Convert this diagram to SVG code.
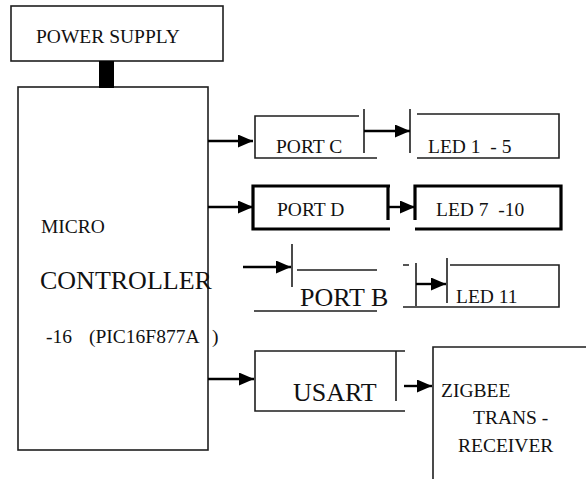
<svg xmlns="http://www.w3.org/2000/svg" width="586" height="479" viewBox="0 0 586 479">
<style>
.ln{fill:none;stroke:#1e1e1e;stroke-width:1.6}
.thk{fill:none;stroke:#000;stroke-width:3.2}
.ar{fill:none;stroke:#000;stroke-width:2.4}
text{font-family:'Liberation Serif','Times New Roman','DejaVu Serif',serif;font-size:19.5px;fill:#111}
.big{font-size:26px}
</style>
<defs>
<marker id="ah" markerUnits="userSpaceOnUse" markerWidth="16" markerHeight="14" refX="15" refY="6.5" orient="auto">
<path d="M0,0 L15,6.5 L0,13 z" fill="#000"/>
</marker>
</defs>
<rect width="586" height="479" fill="#fff"/>
<g id="power-supply">
<rect class="ln" x="11" y="6" width="212" height="55"/>
<text x="36" y="43" font-size="20">POWER SUPPLY</text>
</g>
<g id="microcontroller">
<rect class="ln" x="18" y="87" width="190" height="363"/>
<text x="41" y="233">MICRO</text>
<text class="big" x="40" y="289">CONTROLLER</text>
<text x="46" y="343">-16</text>
<text x="89" y="343">(PIC16F877A</text>
<text x="212" y="343">)</text>
</g>
<g id="port-c">
<path class="ln" d="M359,116 H255 V158 H377 M364,109 V153"/>
<text x="276" y="153">PORT C</text>
</g>
<g id="led-1-5">
<path class="ln" d="M410,109 V153 M417,114 H559 V158 H417"/>
<text x="428" y="153" xml:space="preserve">LED 1  - 5</text>
</g>
<g id="port-d">
<path class="thk" d="M390,186 H253 V229 H390 M388,186 V220"/>
<text x="277" y="216">PORT D</text>
</g>
<g id="led-7-10">
<path class="thk" d="M415,220 V186 H561 V229 H415"/>
<text x="436" y="216" xml:space="preserve">LED 7  -10</text>
</g>
<g id="port-b">
<path class="ln" d="M292,244 V287 M297,270 H377 M254,311 H377"/>
<text class="big" x="300" y="306">PORT B</text>
</g>
<g id="led-11">
<path class="ln" d="M403,265 H409 M416,263 V306 M447,258 V303 M450,265 H559 V307 H403"/>
<text x="456" y="303">LED 11</text>
</g>
<g id="usart">
<path class="ln" d="M405,351 H255 V411 H405 M396,351 V401"/>
<text class="big" x="293" y="401">USART</text>
</g>
<g id="zigbee">
<path class="ln" d="M433,490 V347 H590"/>
<text x="441" y="397">ZIGBEE</text>
<text x="473" y="424">TRANS -</text>
<text x="458" y="452">RECEIVER</text>
</g>
<g id="connectors">
<rect x="99" y="61" width="15" height="27" fill="#000"/>
<line class="ar" x1="208" y1="141" x2="253" y2="141" marker-end="url(#ah)"/>
<line class="ar" x1="364" y1="131" x2="410" y2="131" marker-end="url(#ah)"/>
<line class="ar" x1="208" y1="207" x2="253" y2="207" marker-end="url(#ah)"/>
<line class="ar" x1="388" y1="207" x2="415" y2="207" marker-end="url(#ah)"/>
<line class="ar" x1="243" y1="267" x2="291" y2="267" marker-end="url(#ah)"/>
<line class="ar" x1="416" y1="284" x2="446" y2="284" marker-end="url(#ah)"/>
<line class="ar" x1="208" y1="379" x2="254" y2="379" marker-end="url(#ah)"/>
<line class="ar" x1="404" y1="386" x2="432" y2="386" marker-end="url(#ah)"/>
</g>
</svg>
